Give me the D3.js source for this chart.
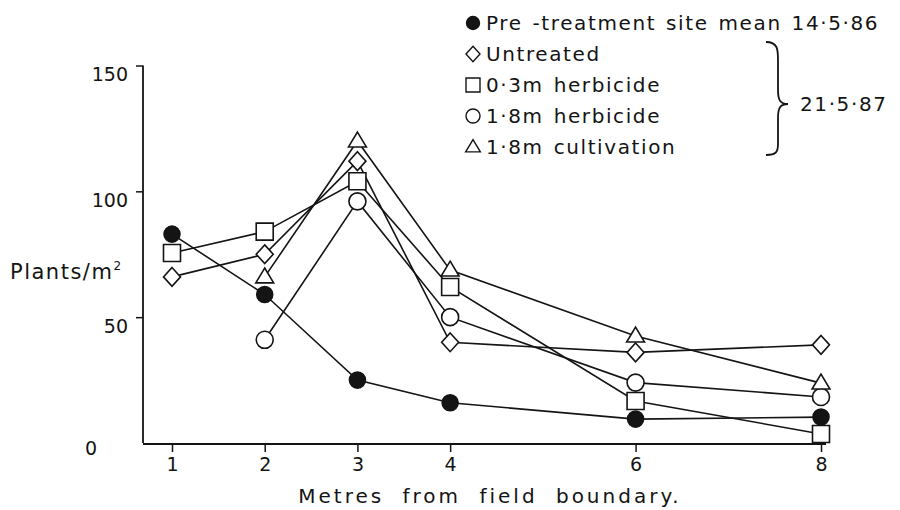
<!DOCTYPE html>
<html>
<head lang="en">
	<meta charset="UTF-8">
	<title>Plants per m2 by distance from field boundary</title>
	<script src="https://cdnjs.cloudflare.com/ajax/libs/d3/7.8.5/d3.min.js"></script>
	<style type="text/css">
		body { margin: 0; background: #fff; }
		svg text { font-family: "DejaVu Sans", sans-serif; fill: #141414; }
	</style>
</head>
<body>
	<svg id="chart" width="900" height="510" version="1.1" xmlns="http://www.w3.org/2000/svg"></svg>
	<script type="text/javascript">
		// distance from field boundary (m)
		var metres = [1, 2, 3, 4, 6, 8];

		// plants per m2
		var preTreatment = [83, 59, 25, 16, 9.5, 10.3];
		var untreated = [66, 75, 112, 40, 36, 39];
		var herbicide03 = [75.5, 84, 104, 62, 16.7, 3.6];
		var herbicide18 = [null, 41, 96, 50, 24, 18.3];
		var cultivation18 = [null, 66, 120, 68.7, 42.5, 23.8];

		var yTicks = [0, 50, 100, 150];

		var series = [
			{ label: 'Pre -treatment site mean 14\u00b75\u00b786', shape: 'dot', values: preTreatment },
			{ label: 'Untreated', shape: 'diamond', values: untreated },
			{ label: '0\u00b73m herbicide', shape: 'square', values: herbicide03 },
			{ label: '1\u00b78m herbicide', shape: 'circle', values: herbicide18 },
			{ label: '1\u00b78m cultivation', shape: 'triangle', values: cultivation18 }
		];

		var ink = '#141414';
		var svg = d3.select('#chart');

		var x = d3.scaleLinear().domain([1, 8]).range([172, 821]);
		var y = d3.scaleLinear().domain([0, 150]).range([443, 65.5]);

		// marker outline centred on 0,0; s = half size
		function shapePath(shape, s) {
			if (shape == 'diamond') return 'M0,' + (-s * 1.1) + 'L' + s + ',0L0,' + (s * 1.1) + 'L' + (-s) + ',0Z';
			if (shape == 'square') return 'M' + (-s) + ',' + (-s) + 'h' + (2 * s) + 'v' + (2 * s) + 'h' + (-2 * s) + 'Z';
			if (shape == 'triangle') return 'M0,' + (-s * 1.05) + 'L' + (s * 1.05) + ',' + (s * 0.7) + 'L' + (-s * 1.05) + ',' + (s * 0.7) + 'Z';
			return d3.arc()({ innerRadius: 0, outerRadius: s, startAngle: 0, endAngle: 2 * Math.PI });
		}

		// axes
		var yAxis = d3.axisLeft(y).tickValues(yTicks).tickSize(7).tickPadding(8);
		var yg = svg.append('g').attr('transform', 'translate(143,0)').call(yAxis);
		yg.select('.domain').remove();
		yg.selectAll('.tick line').attr('stroke', ink).attr('stroke-width', 1.5)
			.filter(function (d) { return d === 0; }).remove();
		yg.selectAll('.tick text').attr('font-size', 19).attr('font-family', null).attr('y', 9)
			.filter(function (d) { return d === 0; }).attr('x', -46).attr('y', 5);

		var xAxis = d3.axisBottom(x).tickValues(metres).tickFormat(d3.format('d')).tickSize(8).tickPadding(6);
		var xg = svg.append('g').attr('transform', 'translate(0,444)').call(xAxis);
		xg.select('.domain').remove();
		xg.selectAll('.tick line').attr('stroke', ink).attr('stroke-width', 1.5);
		xg.selectAll('.tick text').attr('font-size', 19).attr('font-family', null);

		svg.append('path')
			.attr('d', 'M143,' + y(0) + 'V' + y(150) + 'M143,' + (y(0) + 1) + 'H826')
			.attr('fill', 'none').attr('stroke', ink).attr('stroke-width', 1.8);

		svg.append('text').attr('x', 490).attr('y', 503).attr('text-anchor', 'middle')
			.attr('font-size', 20).attr('letter-spacing', 3).attr('word-spacing', 9)
			.text('Metres from field boundary.');

		var yl = svg.append('text').attr('x', 10).attr('y', 279).attr('font-size', 21).attr('letter-spacing', 1.5);
		yl.append('tspan').text('Plants/m');
		yl.append('tspan').attr('font-size', 12).attr('dy', -9).text('2');

		// lines
		var line = d3.line()
			.defined(function (d) { return d != null; })
			.x(function (d, i) { return x(metres[i]); })
			.y(function (d) { return y(d); });

		svg.append('g').selectAll('path').data(series).enter().append('path')
			.attr('d', function (d) { return line(d.values); })
			.attr('fill', 'none').attr('stroke', ink).attr('stroke-width', 1.6);

		// markers
		series.forEach(function (s) {
			var pts = s.values.map(function (v, i) { return { x: metres[i], v: v }; })
				.filter(function (p) { return p.v != null; });
			svg.append('g').selectAll('path').data(pts).enter().append('path')
				.attr('transform', function (p) { return 'translate(' + x(p.x) + ',' + y(p.v) + ')'; })
				.attr('d', shapePath(s.shape, s.shape == 'dot' ? 8 : 8.5))
				.attr('fill', s.shape == 'dot' ? ink : '#fff')
				.attr('stroke', ink).attr('stroke-width', 1.6);
		});

		// legend
		var lg = svg.append('g').attr('transform', 'translate(473,0)');
		var item = lg.selectAll('g').data(series).enter().append('g')
			.attr('transform', function (d, i) { return 'translate(0,' + (23 + i * 31) + ')'; });
		item.append('path')
			.attr('d', function (d) { return shapePath(d.shape, d.shape == 'dot' ? 6.5 : 7); })
			.attr('fill', function (d) { return d.shape == 'dot' ? ink : '#fff'; })
			.attr('stroke', ink).attr('stroke-width', 1.4);
		item.append('text').attr('x', 13).attr('dy', '0.36em')
			.attr('font-size', 20).attr('letter-spacing', 1.6).attr('word-spacing', 2)
			.text(function (d) { return d.label; });

		// brace for the 1987 series
		svg.append('path')
			.attr('d', 'M766,42 C778,42 778,50 778,60 L778,90 C778,100 780,104 788,104 C780,104 778,108 778,118 L778,144 C778,152 776,155 766,155')
			.attr('fill', 'none').attr('stroke', ink).attr('stroke-width', 1.8);
		svg.append('text').attr('x', 800).attr('y', 104).attr('dy', '0.36em')
			.attr('font-size', 20).attr('letter-spacing', 1.6)
			.text('21\u00b75\u00b787');
	</script>
</body>
</html>
